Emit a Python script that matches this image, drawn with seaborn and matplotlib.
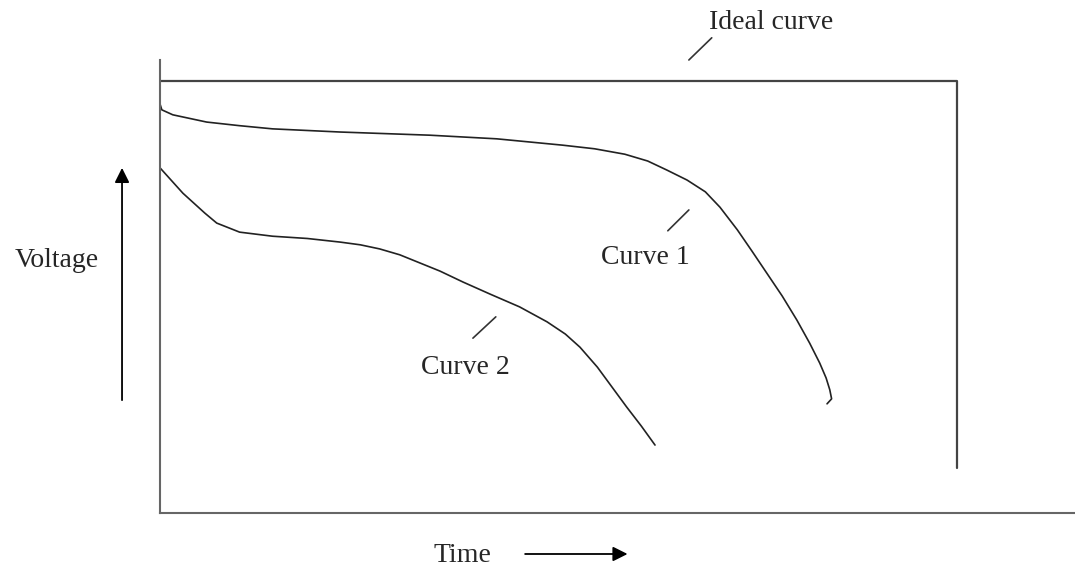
import pandas as pd
import seaborn as sns
import matplotlib.pyplot as plt

sns.set_style("white")
plt.rcParams['font.family'] = ['Liberation Serif', 'DejaVu Serif']

# curve data (time, voltage), both on a 0-100 scale
ideal_t = [0, 87.1, 87.1]
ideal_v = [95.4, 95.4, 9.9]

curve1_t = [0, 0.2, 1.4, 5.1, 8.7, 12.3, 19.7, 29.5, 36.8, 44.0, 47.5, 50.8, 53.3,
            55.4, 57.6, 59.6, 61.2, 63.1, 64.7, 66.3, 68.0, 69.6, 71.0, 72.1, 72.8,
            73.2, 73.4, 72.9]
curve1_v = [90.3, 89.0, 87.9, 86.3, 85.5, 84.8, 84.1, 83.4, 82.6, 81.2, 80.4, 79.2, 77.7,
            75.7, 73.5, 70.9, 67.5, 62.5, 57.8, 53.0, 47.9, 42.6, 37.5, 33.1, 29.8,
            27.2, 25.2, 24.1]

curve2_t = [0, 2.5, 4.9, 6.2, 8.7, 12.3, 16.1, 19.7, 21.9, 24.0, 26.2, 28.4, 30.6, 33.1,
            36.1, 39.3, 42.3, 44.3, 45.9, 47.8, 49.4, 51.0, 52.6, 54.1]
curve2_v = [76.2, 70.6, 66.2, 64.0, 62.0, 61.1, 60.6, 59.8, 59.2, 58.3, 57.0, 55.2, 53.4, 51.0,
            48.3, 45.5, 42.2, 39.5, 36.6, 32.2, 27.8, 23.4, 19.2, 15.0]

ideal = pd.DataFrame({'t': ideal_t, 'v': ideal_v})
c1 = pd.DataFrame({'t': curve1_t, 'v': curve1_v})
c2 = pd.DataFrame({'t': curve2_t, 'v': curve2_v})

fig = plt.figure(figsize=(10.75, 5.69), dpi=100)
ax = fig.add_axes([160 / 1075, 56 / 569, 915 / 1075, 453 / 569])

sns.lineplot(data=ideal, x='t', y='v', sort=False, estimator=None, color='#444444', lw=1.6, ax=ax)
for c in [c1, c2]:
    sns.lineplot(data=c, x='t', y='v', sort=False, estimator=None, color='#222222', lw=1.2,
                 solid_joinstyle='round', ax=ax)

ax.set_xlim(0, 100)
ax.set_ylim(0, 100)
ax.set_xticks([])
ax.set_yticks([])
ax.set_xlabel('')
ax.set_ylabel('')
for side in ['top', 'right']:
    ax.spines[side].set_visible(False)
for side in ['left', 'bottom']:
    ax.spines[side].set_color('#666666')
    ax.spines[side].set_linewidth(1.5)

# labels and their pointer ticks
fs = 20
ax.text(66.8, 108.2, 'Ideal curve', fontsize=fs, ha='center', va='center', clip_on=False)
ax.plot([60.3, 57.8], [104.9, 100.0], color='#333333', lw=1.2, clip_on=False)
ax.text(53.0, 56.3, 'Curve 1', fontsize=fs, ha='center', va='center')
ax.plot([57.8, 55.5], [66.9, 62.3], color='#333333', lw=1.2)
ax.text(33.4, 32.2, 'Curve 2', fontsize=fs, ha='center', va='center')
ax.plot([36.7, 34.2], [43.3, 38.6], color='#333333', lw=1.2)

# axis names with arrows
ax.text(-11.3, 55.8, 'Voltage', fontsize=fs, ha='center', va='center', clip_on=False)
ax.annotate('', xy=(-4.15, 76.8), xytext=(-4.15, 24.3), annotation_clip=False,
            arrowprops=dict(arrowstyle='-|>', color='black', lw=1.3, mutation_scale=22))
ax.text(33.1, -9.4, 'Time', fontsize=fs, ha='center', va='center', clip_on=False)
ax.annotate('', xy=(51.4, -9.05), xytext=(39.6, -9.05), annotation_clip=False,
            arrowprops=dict(arrowstyle='-|>', color='black', lw=1.3, mutation_scale=22))

fig.savefig('out.png', dpi=100, facecolor='white')
